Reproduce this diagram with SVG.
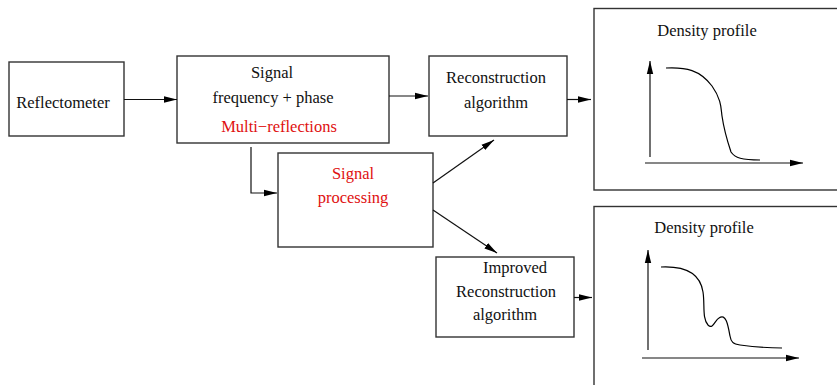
<svg xmlns="http://www.w3.org/2000/svg" width="837" height="385" viewBox="0 0 837 385">
<style>
.box{fill:#fff;stroke:#333;stroke-width:1.4}
.ln{fill:none;stroke:#111;stroke-width:1.2}
.cv{fill:none;stroke:#000;stroke-width:1.2}
text{font-family:"Liberation Serif","Times New Roman",serif;font-size:16.5px;fill:#111;text-anchor:middle}
.red{fill:#e01010}
</style>
<defs>
<marker id="ah" markerWidth="14" markerHeight="8" refX="13" refY="4" orient="auto" markerUnits="userSpaceOnUse">
<path d="M0,0.8 L13,4 L0,7.2 Z" fill="#000"/>
</marker>
</defs>
<rect width="837" height="385" fill="#fff"/>
<g id="reflectometer">
<rect class="box" x="9" y="62" width="115" height="74"/>
<text x="63" y="108">Reflectometer</text>
</g>
<g id="signal">
<rect class="box" x="177" y="56" width="212" height="87"/>
<text x="272" y="78">Signal</text>
<text x="273" y="103">frequency + phase</text>
<text class="red" x="279" y="132">Multi−reflections</text>
</g>
<g id="processing">
<rect class="box" x="278" y="153" width="155" height="94"/>
<text class="red" x="353" y="179">Signal</text>
<text class="red" x="353" y="203">processing</text>
</g>
<g id="reconstruction">
<rect class="box" x="429" y="56" width="138" height="80"/>
<text x="496" y="83">Reconstruction</text>
<text x="496" y="108">algorithm</text>
</g>
<g id="improved">
<rect class="box" x="436" y="257" width="138" height="80"/>
<text x="515" y="273">Improved</text>
<text x="506" y="297">Reconstruction</text>
<text x="505" y="320">algorithm</text>
</g>
<g id="profile1">
<rect class="box" x="594" y="8.5" width="260" height="181.5"/>
<text x="707" y="36">Density profile</text>
<line class="ln" x1="650" y1="157" x2="650" y2="61" marker-end="url(#ah)"/>
<line class="ln" x1="645" y1="163" x2="803" y2="163" marker-end="url(#ah)"/>
<path class="cv" d="M666,68 C686,67 700,70 712,86 C722,100 721,110 722,116 C724,130 728,143 731,152 C735,158 742,160 760,160"/>
</g>
<g id="profile2">
<rect class="box" x="594" y="206.5" width="260" height="190"/>
<text x="704" y="233">Density profile</text>
<line class="ln" x1="648" y1="350" x2="648" y2="250" marker-end="url(#ah)"/>
<line class="ln" x1="642" y1="358" x2="799" y2="358" marker-end="url(#ah)"/>
<path class="cv" d="M661,267 C682,266 700,272 703,292 C705,305 702,318 708,325 C713,330 715,320 719,318 C726,313 728,325 730,336 C731,342 733,344 740,345 C755,347 770,348 782,348"/>
</g>
<g id="connectors">
<line class="ln" x1="124" y1="99.5" x2="177" y2="99.5" marker-end="url(#ah)"/>
<line class="ln" x1="389" y1="96" x2="428" y2="96" marker-end="url(#ah)"/>
<polyline class="ln" points="251,147 251,193 277,193" marker-end="url(#ah)"/>
<line class="ln" x1="567" y1="99.5" x2="591" y2="99.5" marker-end="url(#ah)"/>
<line class="ln" x1="433" y1="183" x2="494" y2="140" marker-end="url(#ah)"/>
<line class="ln" x1="433" y1="210" x2="497" y2="253" marker-end="url(#ah)"/>
<line class="ln" x1="574" y1="297.5" x2="592" y2="297.5" marker-end="url(#ah)"/>
</g>
</svg>
